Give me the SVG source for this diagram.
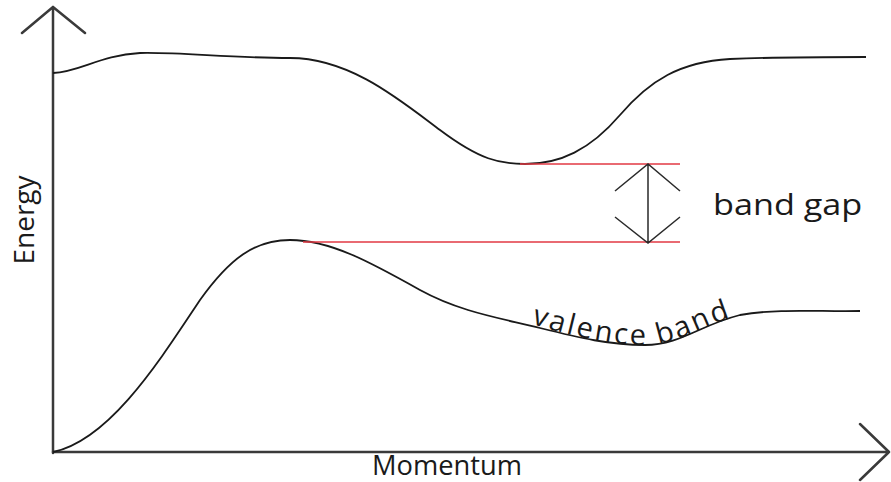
<svg xmlns="http://www.w3.org/2000/svg" width="891" height="482" viewBox="0 0 891 482">
<style>
.ax{fill:none;stroke:#3a3a3a;stroke-width:2.5;stroke-linecap:round;stroke-linejoin:round}
.cv{fill:none;stroke:#1a1a1a;stroke-width:1.8}
.rl{fill:none;stroke:#e23a44;stroke-width:1.5}
.ar{fill:none;stroke:#2a2a2a;stroke-width:1.5}
.t{font-family:"Open Sans","Liberation Sans",sans-serif;fill:#1a1a1a}
</style>
<rect width="891" height="482" fill="#ffffff"/>
<defs>
<path id="vtext" d="M531,324 C580,338 610,345 645,345 C680,345 700,325 745,314"/>
</defs>
<g id="axes">
<path class="ax" d="M53,453 V7 M22,33 L53,7 L85,33"/>
<path class="ax" d="M53,452 H889 M860,424 L889,452 L860,480"/>
</g>
<g id="conduction-band">
<path class="cv" d="M53,73 C80,72 100,55 140,53 C180,52 230,58 290,58 C350,58 400,100 440,130 C480,160 500,164 525,164 C560,164 590,150 620,115 C650,80 680,62 730,59 C780,57 830,57 866,57"/>
</g>
<g id="valence-band">
<path class="cv" d="M53,452 C110,440 160,360 200,300 C230,258 255,240 290,240 C330,240 370,262 420,290 C460,312 500,318 540,328 C580,338 610,345 645,345 C680,345 700,325 740,315 C780,308 820,312 860,311"/>
<text class="t" font-size="29" letter-spacing="2.5"><textPath href="#vtext">valence band</textPath></text>
</g>
<g id="gap-lines">
<path class="rl" d="M520,164 H680 M303,242 H680"/>
</g>
<g id="connectors">
<path class="ar" d="M648,164 V243 M615,191 L648,164 L680,191 M615,217 L648,243 L680,217"/>
</g>
<g id="labels">
<text class="t" font-size="29" transform="translate(713,215) scale(1.18,1)">band gap</text>
<text class="t" font-size="27" x="447" y="475" text-anchor="middle" textLength="150" lengthAdjust="spacingAndGlyphs">Momentum</text>
<text class="t" font-size="28" text-anchor="middle" transform="translate(34,220) rotate(-90)">Energy</text>
</g>
</svg>
